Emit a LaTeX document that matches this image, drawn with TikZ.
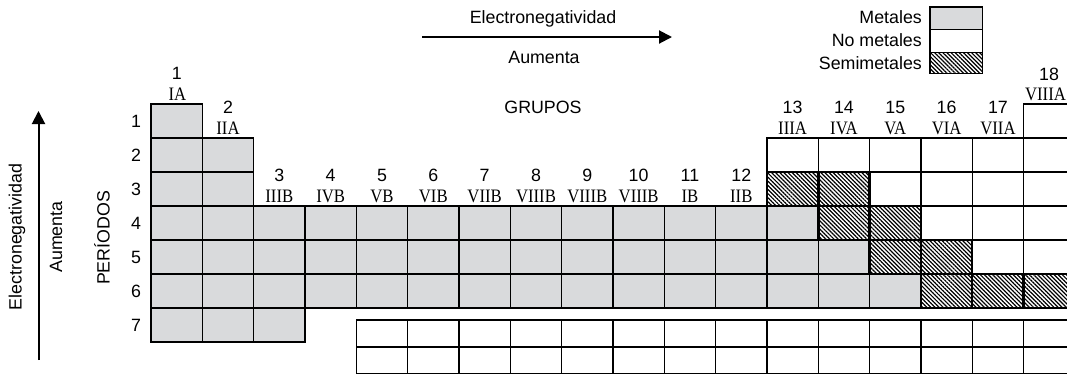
\documentclass[tikz,border=0pt]{standalone}
\usepackage{fontspec}
\setmainfont{Liberation Sans}
\newfontfamily\romfont{Liberation Serif}
\usetikzlibrary{arrows.meta,patterns.meta}
\definecolor{metalgray}{RGB}{217,218,220}
\newcommand{\rn}[1]{\scalebox{0.88}[1]{#1}}
\begin{document}
\begin{tikzpicture}[x=1pt,y=-1pt,
  every node/.style={font=\fontsize{17.8}{20}\selectfont, inner sep=0pt},
  cellbox/.style={draw=black, line width=1.3pt, minimum width=51.33pt, minimum height=34pt, inner sep=0pt, outer sep=0pt},
  metal/.style={cellbox, fill=metalgray},
  nonmetal/.style={cellbox, fill=white},
  semi/.style={cellbox, line width=2.4pt, fill=white, postaction={pattern={Lines[angle=-45,distance=2.9pt,line width=1.2pt]}}},
  lanth/.style={cellbox, fill=white, minimum height=27pt},
  grpnum/.style={anchor=base},
  grprom/.style={anchor=base, font=\romfont\fontsize{19}{20}\selectfont},
  bigarrow/.style={line width=2pt, -{Triangle[length=13pt,width=13pt]}},
  legbox/.style={draw=black, line width=1.3pt, minimum width=52.5pt, inner sep=0pt, outer sep=0pt}
]
\useasboundingbox (0,0) rectangle (1067,373);
\clip (0,0) rectangle (1067,373);

% metals
\foreach \r/\c in {1/1,2/1,2/2,3/1,3/2,4/1,4/2,5/1,5/2,6/1,6/2,7/1,7/2,7/3,4/13,5/13,5/14,6/13,6/14,6/15}
  \node[metal] (p\r g\c) at ({151+51.33*(\c-0.5)},{104+34*(\r-0.5)}) {};
\foreach \r in {4,5,6}
  \foreach \c in {3,...,12}
    \node[metal] (p\r g\c) at ({151+51.33*(\c-0.5)},{104+34*(\r-0.5)}) {};
% non-metals
\foreach \r/\c in {1/18,2/13,2/14,2/15,2/16,2/17,2/18,3/15,3/16,3/17,3/18,4/16,4/17,4/18,5/17,5/18}
  \node[nonmetal] (p\r g\c) at ({151+51.33*(\c-0.5)},{104+34*(\r-0.5)}) {};
% semimetals
\foreach \r/\c in {3/13,3/14,4/14,4/15,5/15,5/16,6/16,6/17,6/18}
  \node[semi] (p\r g\c) at ({151+51.33*(\c-0.5)},{104+34*(\r-0.5)}) {};
% lanthanides / actinides
\foreach \c in {5,...,18}{
  \node[lanth] (la\c) at ({151+51.33*(\c-0.5)},333.5) {};
  \node[lanth] (ac\c) at ({151+51.33*(\c-0.5)},360.5) {};
}

% group labels
\node[grpnum] (n1) at (176.7,79) {1};
\node[grprom] (r1) at (177.5,100) {\rn{IA}};
\node[grpnum] (n2) at (228,113) {2};
\node[grprom] (r2) at (228,134) {\rn{IIA}};
\foreach \c/\rom in {3/IIIB,4/IVB,5/VB,6/VIB,7/VIIB,8/VIIIB,9/VIIIB,10/VIIIB,11/IB,12/IIB}{
  \node[grpnum] (n\c) at ({151+51.33*(\c-0.5)},181) {\c};
  \node[grprom] (r\c) at ({151+51.33*(\c-0.5)},202) {\rn{\rom}};
}
\foreach \c/\rom in {13/IIIA,14/IVA,15/VA,16/VIA,17/VIIA}{
  \node[grpnum] (n\c) at ({151+51.33*(\c-0.5)},113) {\c};
  \node[grprom] (r\c) at ({151+51.33*(\c-0.5)},134) {\rn{\rom}};
}
\node[grpnum] (n18) at (1049,80) {18};
\node[grprom] (r18) at (1045.5,100.5) {\rn{VIIIA}};

% period numbers
\foreach \r in {1,...,7}
  \node (per\r) at (136,{104+34*(\r-0.5)}) {\r};

% titles
\node (grupos) at (543,107.5) {GRUPOS};
\node[rotate=90] (periodos) at (102,238) {PERÍODOS};

% top arrow
\coordinate (ha) at (422,37);
\coordinate (hb) at (672,37);
\draw[bigarrow] (ha) -- (hb);
\node (hen) at (543,18.5) {Electronegatividad};
\node (hau) at (544,57) {Aumenta};

% left arrow
\coordinate (va) at (38.5,360);
\coordinate (vb) at (38.5,111);
\draw[bigarrow] (va) -- (vb);
\node[rotate=90] (ven) at (17,237) {Electronegatividad};
\node[rotate=90] (vau) at (56,237) {Aumenta};

% legend
\node[legbox, minimum height=22.5pt, fill=metalgray] (lm) at (956.25,18.25) {};
\node[legbox, minimum height=22.8pt, fill=white] (ln) at (956.25,40.9) {};
\node[legbox, minimum height=21.4pt, fill=white, postaction={pattern={Lines[angle=-45,distance=2.9pt,line width=1.2pt]}}] (ls) at (956.25,63) {};
\node[anchor=base east] (tm) at (922,23.3) {Metales};
\node[anchor=base east] (tn) at (922,46) {No metales};
\node[anchor=base east] (ts) at (922,69.3) {Semimetales};
\end{tikzpicture}
\end{document}
